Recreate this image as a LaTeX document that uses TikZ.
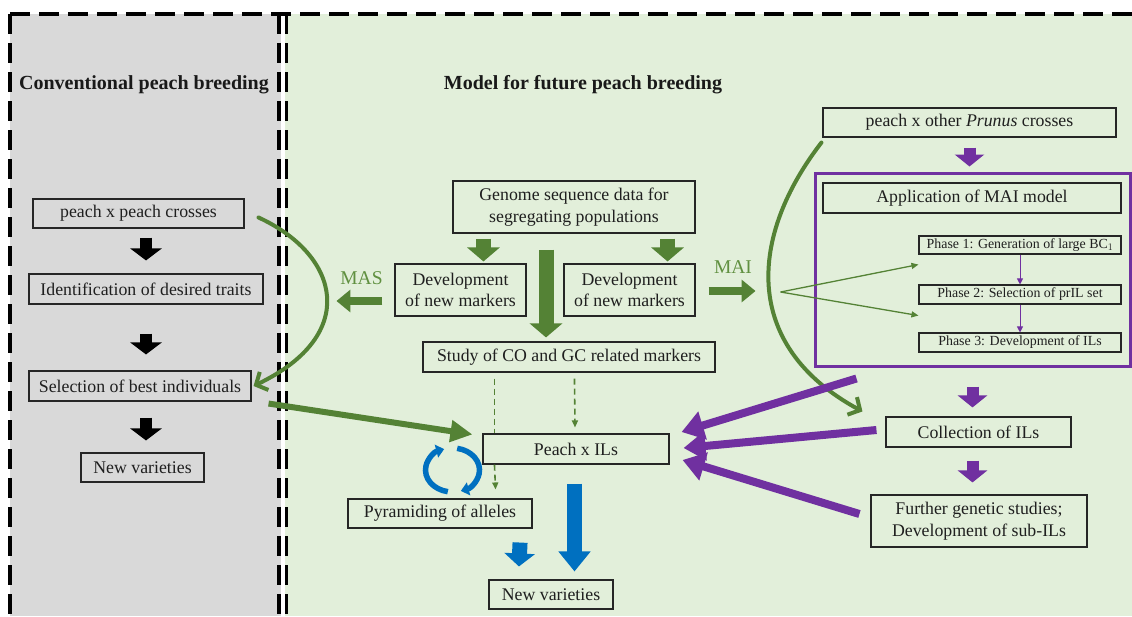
\documentclass[tikz,border=0pt]{standalone}
\usepackage{fontspec}
\setmainfont{Liberation Serif}
\usetikzlibrary{arrows.meta,calc}

\definecolor{panelgray}{HTML}{D9D9D9}
\definecolor{panelgreen}{HTML}{E2EFDA}
\definecolor{leaf}{HTML}{548235}
\definecolor{leaftext}{HTML}{609040}
\definecolor{plum}{HTML}{7030A0}
\definecolor{sky}{HTML}{0070C0}
\definecolor{edge}{HTML}{262626}

\begin{document}
\begin{tikzpicture}[x=1pt,y=-1pt,
  box/.style={draw=edge, line width=1.1pt, inner sep=0pt, align=center,
    text=black!88, font=\fontsize{17.8}{21.5}\selectfont},
  graybox/.style={box, fill=panelgray},
  greenbox/.style={box, fill=panelgreen},
  phase/.style={greenbox, font=\fontsize{13.9}{16}\selectfont},
  heading/.style={font=\bfseries\fontsize{20}{24}\selectfont, text=black!90},
  tag/.style={text=leaftext, font=\fontsize{19.5}{22}\selectfont},
  border/.style={draw=black, line width=3.4pt, dash pattern=on 20pt off 9pt},
  blackblock/.style={draw=black, line width=12pt, -{Triangle[width=31pt,length=12pt]}},
  leafblock/.style={draw=leaf, line width=15pt, -{Triangle[width=32pt,length=14pt]}},
  leafside/.style={draw=leaf, line width=8pt, -{Triangle[width=22pt,length=14pt]}},
  leafthick/.style={draw=leaf, line width=6pt, -{Triangle[width=21pt,length=22pt]}},
  leafcurve/.style={draw=leaf, line width=4pt, line cap=round,
    -{Straight Barb[length=9pt,width=20pt]}},
  leafthin/.style={draw=leaf, line width=1.3pt, -{Triangle[width=6pt,length=7pt]}},
  leafdash/.style={draw=leaf, line width=1.6pt, dash pattern=on 6pt off 4pt},
  plumblock/.style={draw=plum, line width=12pt, -{Triangle[width=29pt,length=12pt]}},
  plumthick/.style={draw=plum, line width=8pt, -{Triangle[width=28pt,length=22pt]}},
  plumthin/.style={draw=plum, line width=1pt, -{Triangle[width=6pt,length=6pt]}},
  skyblock/.style={draw=sky, line width=15pt, -{Triangle[width=30pt,length=13pt]}},
  skybig/.style={draw=sky, line width=15pt, -{Triangle[width=31pt,length=20pt]}},
  cycle/.style={draw=sky, line width=5.5pt, -{Triangle[width=13pt,length=8pt]}}
]
\useasboundingbox (0,0) rectangle (1132,616);
\fill[white] (0,0) rectangle (1132,616);

% panels
\fill[panelgray] (10,14) rectangle (280.5,616);
\fill[panelgreen] (285,14) rectangle (1132,616);
\draw[border] (10,14) -- (1132,14);
\draw[border] (10,14) -- (10,616);
\draw[border] (279,14) -- (279,616);
\draw[border] (286.5,14) -- (286.5,616);

\node[heading] (t1) at (144,85) {Conventional peach breeding};
\node[heading] (t2) at (583,85) {Model for future peach breeding};

% conventional breeding
\node[graybox, minimum width=211, minimum height=29] (pp) at (138.5,213.5) {peach x peach crosses};
\node[graybox, minimum width=234, minimum height=30] (idt) at (146,289) {Identification of desired traits};
\node[graybox, minimum width=222, minimum height=30] (sel) at (140,386) {Selection of best individuals};
\node[graybox, minimum width=123, minimum height=29] (nvl) at (142.5,467.5) {New varieties};

\draw[blackblock, shorten <=9pt, shorten >=13pt] (pp.south -| idt.north) -- (idt.north);
\draw[blackblock, shorten <=29pt, shorten >=16pt] (idt.south) -- (sel.north -| idt.south);
\draw[blackblock, shorten <=16pt, shorten >=12pt] (sel.south -| idt.south) -- (nvl.north -| idt.south);

% genomics-based model
\node[greenbox, minimum width=242, minimum height=52] (gen) at (574,207) {Genome sequence data for\\segregating populations};
\node[greenbox, minimum width=131, minimum height=52] (dm1) at (460.5,290) {Development\\of new markers};
\node[greenbox, minimum width=131, minimum height=52] (dm2) at (629.5,290) {Development\\of new markers};
\node[greenbox, minimum width=292, minimum height=30] (co) at (569,357) {Study of CO and GC related markers};
\node[greenbox, minimum width=186, minimum height=30] (pil) at (576,449) {Peach x ILs};
\node[greenbox, minimum width=184, minimum height=29] (pyr) at (440,513.5) {Pyramiding of alleles};
\node[greenbox, minimum width=124, minimum height=29] (nvm) at (551,594.5) {New varieties};

\node[tag] (mas) at (361.5,278.5) {MAS};
\node[tag] (mai) at (733,267) {MAI};

\draw[leafblock, shorten <=5pt, shorten >=2pt] ($(gen.south west)+(31,0)$) -- ($(dm1.north west)+(89,0)$);
\draw[leafblock, shorten <=5pt, shorten >=2pt] ($(gen.south east)+(-28,0)$) -- ($(dm2.north east)+(-28,0)$);
\draw[leafblock] ($(gen.south)+(-28,16)$) -- ($(co.north)+(-23,-4)$);
\draw[leafside] ($(dm1.west)+(-12,11)$) -- ($(dm1.west)+(-58,11)$);
\draw[leafside] ($(dm2.east)+(13,1)$) -- ($(dm2.east)+(60,1)$);

\draw[leafdash] ($(co.south west)+(72,6)$) -- ($(pil.north west)+(12,0)$);
\draw[leafdash, -{Triangle[width=6pt,length=7pt]}] ($(pil.south west)+(12,0)$) -- ($(pyr.north east)+(-37,-9)$);
\draw[leafdash, -{Triangle[width=6pt,length=7pt]}] ($(co.south west)+(152,6)$) -- ($(pil.north)+(-1,-6)$);

\draw[leafcurve] ($(pp.east)+(14,4)$) .. controls (340,255) and (360,335) .. ($(sel.east)+(2,0)$);
\draw[leafthick] ($(sel.south east)+(17,2)$) -- ($(pil.north west)+(-10,1)$);

% allele pyramiding cycle
\coordinate (cyc) at (452.5,470);
\draw[cycle] ($(cyc)+(100:27 and 22)$) arc[start angle=100, end angle=252, x radius=27, y radius=22];
\draw[cycle] ($(cyc)+(280:27 and 22)$) arc[start angle=280, end angle=432, x radius=27, y radius=22];

\draw[skyblock] ($(pyr.south east)+(-12.5,14)$) -- ($(nvm.north west)+(30.5,-13)$);
\draw[skybig] ($(pil.south)+(-1.5,19)$) -- ($(nvm.north)+(23.5,-8)$);

% interspecific introgression lines
\node[greenbox, minimum width=293, minimum height=29] (pru) at (969.5,122.5) {peach x other \textit{Prunus} crosses};
\node[draw=plum, line width=3pt, inner sep=0pt, minimum width=315, minimum height=193] (maibox) at (972.5,269.5) {};
\node[greenbox, minimum width=298, minimum height=30] (app) at (972,198) {Application of MAI model};
\node[phase, minimum width=202, minimum height=18] (ph1) at (1020,245) {Phase 1: Generation of large BC$_1$};
\node[phase, minimum width=202, minimum height=19] (ph2) at (1020,294.5) {Phase 2: Selection of prIL set};
\node[phase, minimum width=202, minimum height=19] (ph3) at (1020,342.5) {Phase 3: Development of ILs};
\node[greenbox, minimum width=185, minimum height=30] (col) at (978.5,432) {Collection of ILs};
\node[greenbox, minimum width=216, minimum height=52] (fur) at (979,521) {Further genetic studies;\\Development of sub-ILs};

\draw[plumthin] (ph1) -- (ph2);
\draw[plumthin] (ph2) -- (ph3);

\coordinate (fan) at ($(dm2.east)+(85,2)$);
\draw[leafthin] (fan) -- ($(ph1.south west)+(0,10)$);
\draw[leafthin] (fan) -- ($(ph2.south west)+(0,11)$);

\draw[plumblock, shorten <=10pt, shorten >=5pt] (pru.south) -- (pru.south |- maibox.north);
\draw[plumblock, shorten <=19pt, shorten >=9pt] (maibox.south) -- (maibox.south |- col.north);
\draw[plumblock, shorten <=13pt, shorten >=12pt] (col.south -| maibox.south) -- (fur.north -| maibox.south);

\draw[leafcurve] ($(pru.south west)+(-1,5)$) .. controls (750,235) and (740,345) .. ($(col.north west)+(-23,-5)$);

\draw[plumthick] ($(maibox.south west)+(43,11)$) -- ($(pil.east)+(12,-17)$);
\draw[plumthick] ($(col.west)+(-9,-2)$) -- ($(pil.east)+(14,-1)$);
\draw[plumthick] ($(fur.west)+(-11,-7)$) -- ($(pil.east)+(13,11)$);
\end{tikzpicture}
\end{document}
